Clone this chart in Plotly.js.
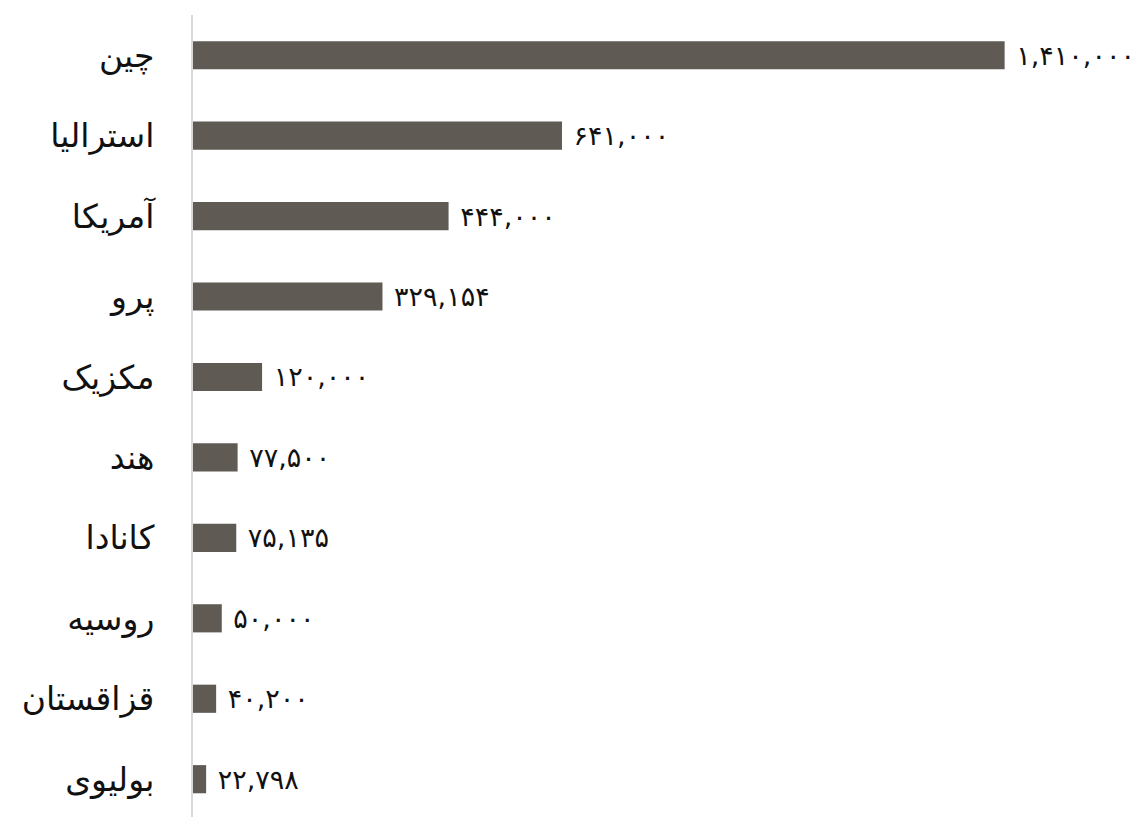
<!DOCTYPE html>
<html>
<head>
<meta charset="utf-8">
<script src="https://cdn.plot.ly/plotly-3.0.1.min.js"></script>
<style>html,body{margin:0;padding:0;background:#fff;}</style>
</head>
<body>
<div id="chart" style="width:1145px;height:817px;"></div>
<script>
const categories = ["چین", "استرالیا", "آمریکا", "پرو", "مکزیک", "هند", "کانادا", "روسیه", "قزاقستان", "بولیوی"];
const values = [1410000, 641000, 444000, 329154, 120000, 77500, 75135, 50000, 40200, 22798];

function toPersian(n) {
  const s = n.toLocaleString("en-US");
  return s.replace(/[0-9]/g, d => "۰۱۲۳۴۵۶۷۸۹"[+d]);
}
const labels = values.map(v => "\u00a0" + toPersian(v));

const trace = {
  type: "bar",
  orientation: "h",
  x: values,
  y: categories,
  text: labels,
  textposition: "outside",
  constraintext: "none",
  cliponaxis: false,
  textfont: {family: "DejaVu Sans, sans-serif", size: 27, color: "#111"},
  marker: {color: "#5f5a54"},
  hoverinfo: "none"
};

const layout = {
  width: 1145,
  height: 817,
  margin: {l: 193, r: 31, t: 15, b: 0},
  paper_bgcolor: "#fff",
  plot_bgcolor: "#fff",
  bargap: 0.65,
  showlegend: false,
  xaxis: {range: [0, 1600000], visible: false, showgrid: false, zeroline: false},
  yaxis: {
    type: "category",
    range: [9.47, -0.5],
    showline: true,
    linecolor: "#d9d9d9",
    linewidth: 2,
    showgrid: false,
    zeroline: false,
    ticks: "",
    ticklabelstandoff: 30,
    tickfont: {family: "Noto Sans, DejaVu Sans, sans-serif", size: 33, color: "#111"}
  }
};

Plotly.newPlot("chart", [trace], layout, {displayModeBar: false, staticPlot: true});
</script>
</body>
</html>
